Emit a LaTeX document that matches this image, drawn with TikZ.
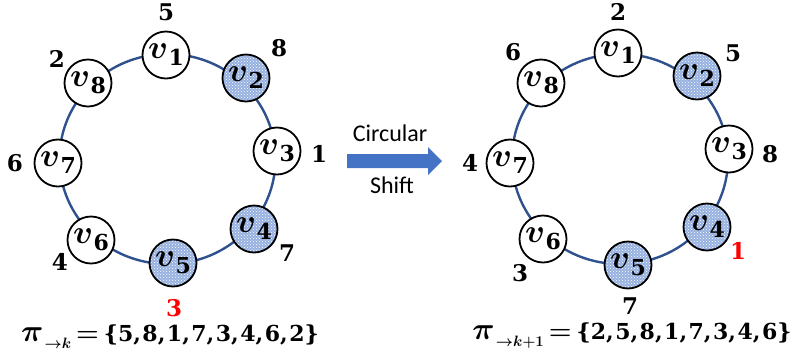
\RequirePackage{fix-cm}
\documentclass[tikz,border=0pt]{standalone}
\usepackage{fontspec}
\usepackage{amsmath,bm}
\usetikzlibrary{patterns}
\newfontfamily\calibrifont{Carlito}
\newfontfamily\numfont{DejaVu Serif}
\definecolor{ringblue}{RGB}{47,82,143}
\definecolor{arrowblue}{RGB}{68,114,196}
\definecolor{hlblue}{RGB}{150,176,224}
\newcommand\vlab[1]{$\boldsymbol{v}$\kern0.5pt\raisebox{-7pt}{\fontsize{22}{22}\selectfont\numfont\bfseries #1}}
\newcommand\pisub[1]{$\boldsymbol{\pi}$\kern1pt\raisebox{-7pt}{\fontsize{15}{15}\selectfont$\boldsymbol{#1}$}}
\newcommand\cm{,\kern1.5pt}
\begin{document}
\begin{tikzpicture}[x=1pt,y=-1pt,
  vtx/.style={circle,draw=black,line width=1.8pt,minimum size=47pt,inner sep=0pt,fill=white,font=\fontsize{33}{35}\selectfont},
  hl/.style={preaction={fill=hlblue},pattern=crosshatch dots,pattern color=white},
  lab/.style={font=\fontsize{23}{25}\selectfont\numfont\bfseries,inner sep=0pt},
  redlab/.style={lab,text=red},
  ring/.style={draw=ringblue,line width=2.4pt},
  formula/.style={font=\fontsize{31}{33}\selectfont,inner sep=0pt},
  sans/.style={font=\fontsize{24}{26}\selectfont\calibrifont,inner sep=0pt}]
\useasboundingbox (0,0) rectangle (795,360);
% left ring
\draw[ring] (167.5,159) ellipse [x radius=108pt, y radius=105pt];
\node[vtx] (a1) at (166,55) {\vlab{1}};
\node[vtx,hl] (a2) at (246,78) {\vlab{2}};
\node[vtx] (a3) at (277,151) {\vlab{3}};
\node[vtx,hl] (a4) at (254,229) {\vlab{4}};
\node[vtx,hl] (a5) at (173,263) {\vlab{5}};
\node[vtx] (a6) at (91,240) {\vlab{6}};
\node[vtx] (a7) at (58,163) {\vlab{7}};
\node[vtx] (a8) at (88,83) {\vlab{8}};
\node[lab] (la1) at (166,12) {5};
\node[lab] (la2) at (279,48) {8};
\node[lab] (la3) at (319,154) {1};
\node[lab] (la4) at (287,253) {7};
\node[redlab] (la5) at (174,308) {3};
\node[lab] (la6) at (60,262) {4};
\node[lab] (la7) at (15,163) {6};
\node[lab] (la8) at (57,59) {2};
\node[formula] (fa) at (170,337) {\pisub{\mathord{\rightarrow}k}\kern5pt{\fontsize{26}{28}\selectfont$\boldsymbol{=}$}\kern5pt{\fontsize{22}{24}\selectfont\numfont\bfseries\{5\cm 8\cm 1\cm 7\cm 3\cm 4\cm 6\cm 2\}}};
% arrow
\fill[arrowblue] (347,154) -- (428,154) -- (428,147) -- (442,161) -- (428,175) -- (428,168) -- (347,168) -- cycle;
\node[sans] (c1) at (390,133) {Circular};
\node[sans] (c2) at (392,185) {Shift};
% right ring
\draw[ring] (620,159) ellipse [x radius=108pt, y radius=105pt];
\node[vtx] (b1) at (618,53) {\vlab{1}};
\node[vtx,hl] (b2) at (697,76) {\vlab{2}};
\node[vtx] (b3) at (729,149) {\vlab{3}};
\node[vtx,hl] (b4) at (707,227) {\vlab{4}};
\node[vtx,hl] (b5) at (628,265) {\vlab{5}};
\node[vtx] (b6) at (543,239) {\vlab{6}};
\node[vtx] (b7) at (510,163) {\vlab{7}};
\node[vtx] (b8) at (541,83) {\vlab{8}};
\node[lab] (lb1) at (618,12) {2};
\node[lab] (lb2) at (733,53) {5};
\node[lab] (lb3) at (770,154) {8};
\node[redlab] (lb4) at (738,251) {1};
\node[lab] (lb5) at (630,306) {7};
\node[lab] (lb6) at (520,273) {3};
\node[lab] (lb7) at (470,163) {4};
\node[lab] (lb8) at (513,52) {6};
\node[formula] (fb) at (632,336) {\pisub{\mathord{\rightarrow}k\mathord{+}1}\kern5pt{\fontsize{26}{28}\selectfont$\boldsymbol{=}$}\kern5pt{\fontsize{22}{24}\selectfont\numfont\bfseries\{2\cm 5\cm 8\cm 1\cm 7\cm 3\cm 4\cm 6\}}};
\end{tikzpicture}
\end{document}
